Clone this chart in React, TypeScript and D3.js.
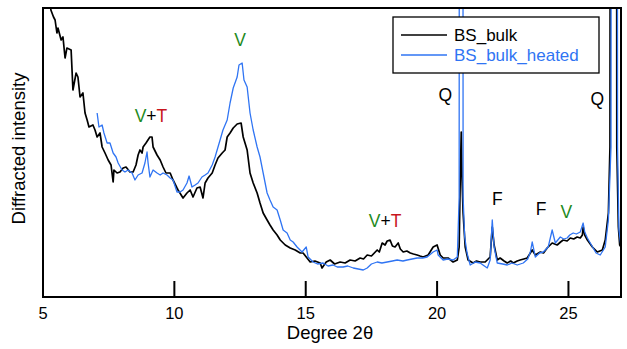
import React from "react";
import * as d3 from "d3";

// XRD patterns: [degree 2θ, intensity (arb. units)]
const bulkPattern: [number, number][] = [
  [5.15, 330], [5.3, 287], [5.4, 280], [5.46, 277], [5.53, 264], [5.57, 269], [5.69, 257], [5.76, 260],
  [5.84, 239], [5.91, 249], [6.07, 247], [6.14, 207], [6.26, 224], [6.33, 220], [6.41, 200], [6.52, 204],
  [6.6, 184], [6.68, 177], [6.75, 170], [6.9, 172], [6.98, 167], [7.06, 160], [7.17, 164], [7.25, 150],
  [7.36, 144], [7.48, 137], [7.59, 132], [7.67, 115], [7.7, 127], [7.82, 124], [7.93, 125], [8.05, 129],
  [8.16, 130], [8.31, 125], [8.43, 125], [8.54, 132], [8.62, 142], [8.69, 147], [8.77, 144], [8.81, 150],
  [8.92, 154], [9.07, 160], [9.15, 160], [9.19, 150], [9.34, 142], [9.46, 137], [9.57, 130], [9.68, 124],
  [9.84, 124], [9.95, 117], [10.1, 109], [10.14, 107], [10.33, 99], [10.48, 104], [10.6, 107], [10.71, 100],
  [10.86, 109], [10.98, 110], [11.09, 99], [11.17, 114], [11.28, 119], [11.44, 124], [11.55, 132], [11.66, 139],
  [11.82, 144], [11.93, 147], [12.01, 160], [12.12, 164], [12.24, 169], [12.39, 173], [12.54, 174], [12.62, 160],
  [12.77, 147], [12.88, 124], [13.0, 114], [13.15, 104], [13.26, 94], [13.38, 84], [13.53, 77], [13.64, 72],
  [13.76, 67], [13.91, 62], [14.03, 57], [14.22, 52], [14.41, 49], [14.6, 47], [14.79, 44], [14.9, 44],
  [15.05, 39], [15.17, 35], [15.35, 36], [15.55, 34], [15.62, 29], [15.78, 35], [15.93, 37], [16.1, 33],
  [16.31, 35], [16.5, 34], [16.69, 37], [16.88, 36], [17.07, 39], [17.2, 38], [17.34, 42], [17.5, 41],
  [17.72, 47], [17.8, 45], [17.91, 54], [18.02, 52], [18.1, 56], [18.21, 57], [18.3, 51], [18.4, 50],
  [18.52, 54], [18.6, 48], [18.71, 45], [18.85, 46], [18.98, 44], [19.1, 43], [19.24, 42], [19.35, 41],
  [19.47, 40], [19.66, 42], [19.85, 50], [20.0, 52], [20.12, 42], [20.23, 39], [20.42, 39], [20.61, 35],
  [20.77, 37], [20.84, 50], [20.88, 117], [20.92, 165], [20.95, 117], [20.99, 84], [21.07, 50], [21.18, 37],
  [21.37, 34], [21.5, 36], [21.64, 35], [21.83, 35], [22.02, 40], [22.1, 70], [22.17, 52], [22.29, 37],
  [22.4, 39], [22.55, 36], [22.67, 34], [22.8, 36], [22.9, 34], [23.05, 36], [23.16, 37], [23.3, 38],
  [23.43, 39], [23.62, 47], [23.74, 42], [23.93, 45], [24.05, 44], [24.19, 49], [24.38, 54], [24.57, 52],
  [24.7, 55], [24.8, 57], [24.95, 56], [25.07, 59], [25.2, 58], [25.33, 60], [25.45, 59], [25.53, 62],
  [25.56, 70], [25.62, 62], [25.72, 57], [25.91, 50], [26.1, 45], [26.29, 47], [26.4, 57], [26.52, 84],
  [26.58, 150], [26.74, 5000], [26.84, 150], [26.9, 70], [26.95, 52], [27.0, 50],
];

const heatedPattern: [number, number][] = [
  [7.06, 184], [7.13, 170], [7.25, 172], [7.32, 164], [7.44, 154], [7.55, 154], [7.67, 144], [7.78, 140],
  [7.86, 134], [8.01, 127], [8.12, 125], [8.24, 127], [8.39, 124], [8.5, 117], [8.62, 122], [8.77, 124],
  [8.88, 134], [8.96, 145], [9.0, 134], [9.07, 120], [9.19, 127], [9.34, 124], [9.46, 122], [9.57, 124],
  [9.72, 122], [9.84, 119], [9.95, 117], [10.1, 105], [10.22, 105], [10.33, 107], [10.48, 114], [10.56, 121],
  [10.67, 110], [10.79, 112], [10.9, 114], [11.05, 120], [11.17, 122], [11.28, 124], [11.44, 132], [11.55, 140],
  [11.74, 157], [11.85, 167], [12.01, 177], [12.12, 194], [12.24, 209], [12.39, 220], [12.46, 232], [12.58, 234],
  [12.65, 217], [12.77, 210], [12.88, 184], [13.0, 167], [13.15, 150], [13.26, 140], [13.38, 124], [13.53, 104],
  [13.64, 97], [13.76, 90], [13.91, 87], [14.03, 77], [14.14, 67], [14.29, 64], [14.41, 57], [14.52, 55],
  [14.67, 50], [14.86, 45], [15.02, 50], [15.09, 40], [15.28, 35], [15.45, 33], [15.66, 34], [15.85, 31],
  [16.04, 32], [16.2, 30], [16.42, 30], [16.6, 31], [16.81, 29], [17.0, 28], [17.19, 27], [17.34, 29],
  [17.5, 33], [17.72, 35], [17.9, 34], [18.1, 35], [18.3, 36], [18.48, 37], [18.7, 36], [18.86, 37],
  [19.05, 38], [19.24, 39], [19.45, 39], [19.62, 40], [19.85, 45], [20.0, 47], [20.04, 42], [20.23, 37],
  [20.4, 38], [20.61, 37], [20.77, 40], [20.84, 100], [20.91, 5000], [20.99, 100], [21.05, 60], [21.14, 44],
  [21.26, 32], [21.45, 35], [21.64, 34], [21.8, 31], [21.91, 29], [22.02, 37], [22.1, 77], [22.17, 50],
  [22.29, 34], [22.5, 33], [22.67, 32], [22.85, 34], [23.05, 32], [23.28, 34], [23.45, 38], [23.55, 45],
  [23.62, 55], [23.74, 40], [23.9, 44], [24.04, 45], [24.23, 50], [24.38, 67], [24.5, 54], [24.69, 60],
  [24.82, 58], [24.95, 59], [25.05, 62], [25.18, 64], [25.3, 63], [25.45, 65], [25.56, 74], [25.62, 65],
  [25.72, 59], [25.94, 49], [26.05, 44], [26.21, 42], [26.4, 50], [26.52, 77], [26.62, 150], [26.74, 5000],
  [26.87, 150], [26.92, 67], [27.0, 50],
];

const xTicks = [5, 10, 15, 20, 25];
const seriesNames = ["BS_bulk", "BS_bulk_heated"];

const GREEN = "#1e8a22";
const RED = "#c8161d";
const BLUE = "#2f74f3";

// Phase labels: [2θ position, intensity of baseline, coloured parts]
const phaseLabels: { x: number; y: number; parts: [string, string][] }[] = [
  { x: 9.11, y: 175, parts: [["V", GREEN], ["+", "#000"], ["T", RED]] },
  { x: 12.5, y: 251, parts: [["V", GREEN]] },
  { x: 18.02, y: 70, parts: [["V", GREEN], ["+", "#000"], ["T", RED]] },
  { x: 20.31, y: 196, parts: [["Q", "#000"]] },
  { x: 22.29, y: 92, parts: [["F", "#000"]] },
  { x: 23.96, y: 82, parts: [["F", "#000"]] },
  { x: 24.92, y: 79, parts: [["V", GREEN]] },
  { x: 26.1, y: 192, parts: [["Q", "#000"]] },
];

const W = 627;
const H = 349;
const left = 43;
const right = 621;
const top = 8;
const bottom = 297;

export default function App() {
  const x = d3.scaleLinear().domain([5, 27]).range([left, right]);
  const y = d3.scaleLinear().domain([0, 289]).range([bottom, top]);
  const line = d3
    .line<[number, number]>()
    .x((d) => x(d[0]))
    .y((d) => y(d[1]));
  const font = "'Liberation Sans', Arial, sans-serif";

  return (
    <svg
      width={W}
      height={H}
      viewBox={`0 0 ${W} ${H}`}
      style={{ position: "absolute", left: 0, top: 0, background: "#fff" }}
      fontFamily={font}
    >
      <defs>
        <clipPath id="plot-clip">
          <rect x={left} y={top} width={right - left} height={bottom - top} />
        </clipPath>
      </defs>
      <g clipPath="url(#plot-clip)">
        <path d={line(bulkPattern) ?? ""} fill="none" stroke="#000" strokeWidth={1.7} strokeLinejoin="round" />
        <path d={line(heatedPattern) ?? ""} fill="none" stroke={BLUE} strokeWidth={1.3} strokeLinejoin="round" />
      </g>

      {/* frame */}
      <rect x={left} y={top} width={right - left} height={bottom - top} fill="none" stroke="#000" strokeWidth={2} />

      {/* x ticks, pointing inward */}
      {xTicks.map((t) => (
        <g key={t}>
          <line x1={x(t)} x2={x(t)} y1={bottom} y2={bottom - 16} stroke="#000" strokeWidth={2} />
          <text x={x(t)} y={bottom + 22} textAnchor="middle" fontSize={16.5} fill="#000">
            {t}
          </text>
        </g>
      ))}
      <text x={330} y={339} textAnchor="middle" fontSize={18.5} fill="#000">
        Degree 2θ
      </text>
      <text
        transform={`translate(25, 148.5) rotate(-90)`}
        textAnchor="middle"
        fontSize={18.5}
        fill="#000"
      >
        Diffracted intensity
      </text>

      {/* phase labels */}
      {phaseLabels.map((p, i) => (
        <text key={i} x={x(p.x)} y={y(p.y)} textAnchor="middle" fontSize={17.5}>
          {p.parts.map(([s, c], j) => (
            <tspan key={j} fill={c}>
              {s}
            </tspan>
          ))}
        </text>
      ))}

      {/* legend */}
      <g>
        <rect x={393} y={17} width={206} height={56} fill="#fff" stroke="#000" strokeWidth={1.3} />
        <line x1={401} x2={447} y1={35} y2={35} stroke="#000" strokeWidth={1.6} />
        <text x={454} y={41} fontSize={17} fill="#000">
          {seriesNames[0]}
        </text>
        <line x1={401} x2={447} y1={55} y2={55} stroke={BLUE} strokeWidth={1.3} />
        <text x={454} y={61} fontSize={17} fill={BLUE}>
          {seriesNames[1]}
        </text>
      </g>
    </svg>
  );
}
